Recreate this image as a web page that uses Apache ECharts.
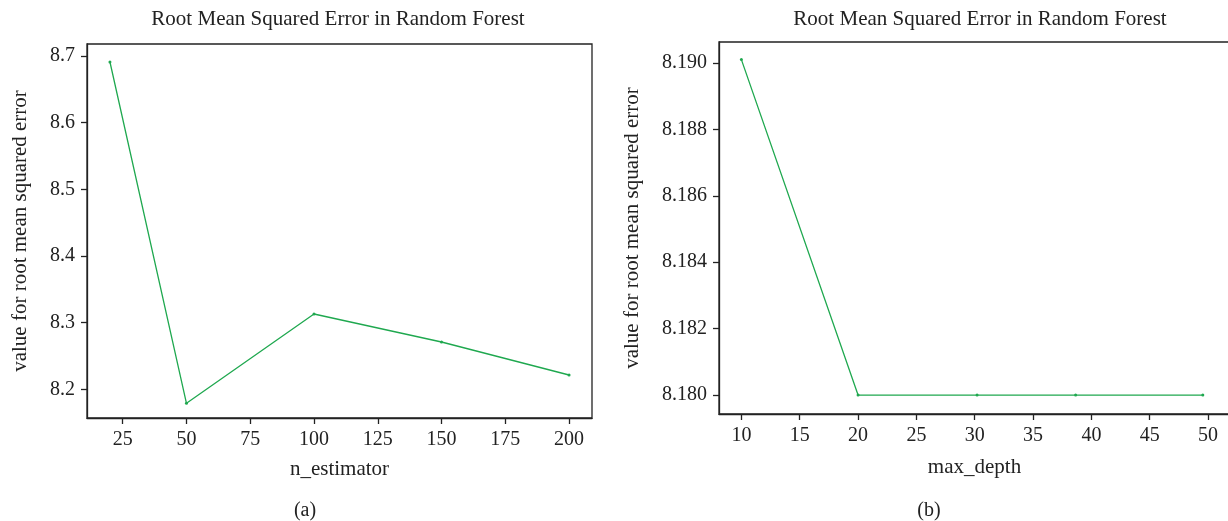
<!DOCTYPE html>
<html>
<head>
<meta charset="utf-8">
<script src="https://cdn.jsdelivr.net/npm/echarts@6/dist/echarts.min.js"></script>
<style>
html,body{margin:0;padding:0;background:#fff;}
#chart{width:1228px;height:521px;}
</style>
</head>
<body>
<div id="chart"></div>
<script>
// ---- data ----
const chartTitle = 'Root Mean Squared Error in Random Forest';
const yAxisName = 'value for root mean squared error';

const nEstimators = [20, 50, 100, 150, 200];
const rmseByEstimators = [8.691, 8.179, 8.313, 8.271, 8.2215];

const maxDepth = [10, 20, 30.2, 38.65, 49.55];
const rmseByDepth = [8.1901, 8.1800, 8.1800, 8.1800, 8.1800];

const xTicksA = [25, 50, 75, 100, 125, 150, 175, 200];
const yTicksA = [8.2, 8.3, 8.4, 8.5, 8.6, 8.7];
const xTicksB = [10, 15, 20, 25, 30, 35, 40, 45, 50];
const yTicksB = [8.180, 8.182, 8.184, 8.186, 8.188, 8.190];

const panelLabels = ['(a)', '(b)'];
const xNames = ['n_estimator', 'max_depth'];

// ---- styling ----
const FONT = '"Liberation Serif", "DejaVu Serif", serif';
const INK = '#222';
const GREEN = '#1fa84f';

const chart = echarts.init(document.getElementById('chart'), null, {renderer: 'canvas'});

function xAxis(gridIndex, min, max, ticks, name, gap) {
  return {
    type: 'value', gridIndex, min, max, name,
    nameLocation: 'middle', nameGap: gap,
    nameTextStyle: {fontFamily: FONT, fontSize: 21, color: INK},
    splitLine: {show: false},
    axisLine: {show: true, onZero: false, lineStyle: {color: INK, width: 1.3}},
    axisTick: {show: true, length: 6, customValues: ticks, lineStyle: {color: INK, width: 1.3}},
    axisLabel: {customValues: ticks, margin: 12, fontFamily: FONT, fontSize: 20, color: INK,
      formatter: v => String(v)}
  };
}
function yAxis(gridIndex, min, max, ticks, digits, gap) {
  return {
    type: 'value', gridIndex, min, max, name: yAxisName,
    nameLocation: 'middle', nameGap: gap, nameRotate: 90,
    nameTextStyle: {fontFamily: FONT, fontSize: 21, color: INK},
    splitLine: {show: false},
    axisLine: {show: true, onZero: false, lineStyle: {color: INK, width: 1.3}},
    axisTick: {show: true, length: 6, customValues: ticks, lineStyle: {color: INK, width: 1.3}},
    axisLabel: {customValues: ticks, margin: 12, fontFamily: FONT, fontSize: 20, color: INK,
      formatter: v => Number(v).toFixed(digits)}
  };
}

const titleStyle = {fontFamily: FONT, fontSize: 21, fontWeight: 'normal', color: INK};
const option = {
  backgroundColor: '#fff',
  animation: false,
  title: [
    {text: chartTitle, left: 333, top: 4, textAlign: 'center', textStyle: titleStyle},
    {text: chartTitle, left: 975, top: 4, textAlign: 'center', textStyle: titleStyle},
    {text: panelLabels[0], left: 300, top: 496, textAlign: 'center',
     textStyle: {fontFamily: FONT, fontSize: 20, fontWeight: 'normal', color: INK}},
    {text: panelLabels[1], left: 924, top: 496, textAlign: 'center',
     textStyle: {fontFamily: FONT, fontSize: 20, fontWeight: 'normal', color: INK}}
  ],
  grid: [
    {left: 87, top: 44, width: 505, height: 374, show: true, borderColor: INK, borderWidth: 1.3,
     containLabel: false, outerBoundsMode: 'none'},
    {left: 719, top: 42, width: 511, height: 372, show: true, borderColor: INK, borderWidth: 1.3,
     containLabel: false, outerBoundsMode: 'none'}
  ],
  xAxis: [
    xAxis(0, 11, 209, xTicksA, xNames[0], 41),
    xAxis(1, 8.08, 51.88, xTicksB, xNames[1], 43)
  ],
  yAxis: [
    yAxis(0, 8.157, 8.718, yTicksA, 1, 56),
    yAxis(1, 8.17943, 8.19063, yTicksB, 3, 76)
  ],
  series: [
    {type: 'line', xAxisIndex: 0, yAxisIndex: 0,
     data: nEstimators.map((x, i) => [x, rmseByEstimators[i]]),
     symbol: 'circle', symbolSize: 3, showSymbol: true,
     lineStyle: {color: GREEN, width: 1.3}, itemStyle: {color: GREEN}},
    {type: 'line', xAxisIndex: 1, yAxisIndex: 1,
     data: maxDepth.map((x, i) => [x, rmseByDepth[i]]),
     symbol: 'circle', symbolSize: 3, showSymbol: true,
     lineStyle: {color: GREEN, width: 1.3}, itemStyle: {color: GREEN}}
  ]
};
chart.setOption(option);
</script>
</body>
</html>
